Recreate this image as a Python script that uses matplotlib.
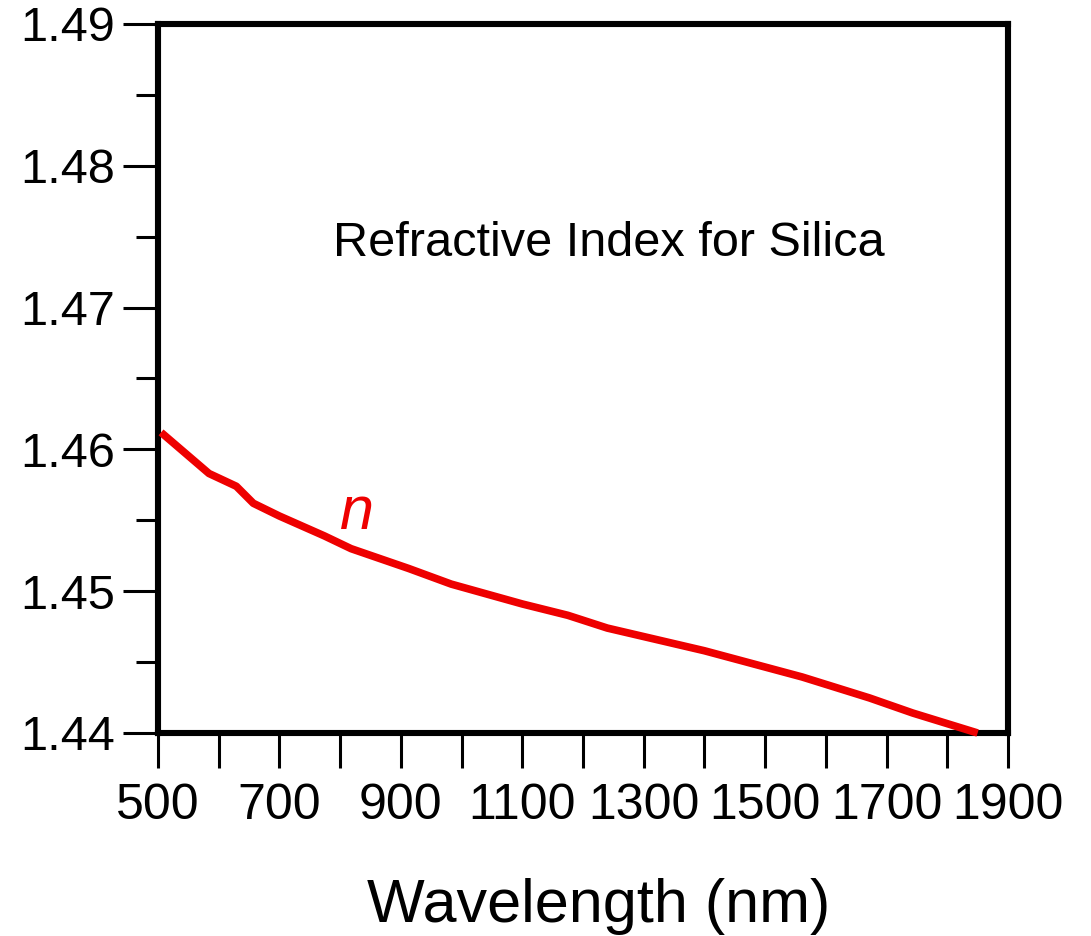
import matplotlib
matplotlib.use('Agg')
import matplotlib.pyplot as plt
from matplotlib.ticker import MultipleLocator, FixedLocator

# data
wavelength = [505, 584, 629, 657, 700, 774, 818, 913, 983, 1100, 1175, 1240,
              1400, 1561, 1672, 1743, 1850]
n_index = [1.4612, 1.4583, 1.4574, 1.4562, 1.4553, 1.4539, 1.4530, 1.4516,
           1.4505, 1.4491, 1.4483, 1.4474, 1.4458, 1.44395, 1.44247, 1.44141,
           1.4400]
xlabels = [500, 700, 900, 1100, 1300, 1500, 1700, 1900]
xminor = [600, 800, 1000, 1200, 1400, 1600, 1800]
yticks = [1.44, 1.45, 1.46, 1.47, 1.48, 1.49]

plt.rcParams['font.family'] = ['Liberation Sans', 'DejaVu Sans']

fig = plt.figure(figsize=(10.91, 9.36), dpi=100)
ax = fig.add_axes([158 / 1091, 1 - 733 / 936, 850 / 1091, 709 / 936])

ax.plot(wavelength, n_index, color='#ee0000', lw=5.5, solid_capstyle='butt',
        clip_on=False, zorder=3)

ax.set_xlim(500, 1900)
ax.set_ylim(1.44, 1.49)

ax.xaxis.set_major_locator(FixedLocator(xlabels))
ax.xaxis.set_minor_locator(FixedLocator(xminor))
ax.set_xticklabels([str(v) for v in xlabels])
ax.yaxis.set_major_locator(FixedLocator(yticks))
ax.yaxis.set_minor_locator(MultipleLocator(0.005))
ax.set_yticklabels(['%.2f' % v for v in yticks])

ax.tick_params(axis='both', which='major', direction='out', length=25,
               width=2.2, color='black')
ax.tick_params(axis='x', which='major', labelsize=36, pad=11)
ax.tick_params(axis='y', which='major', labelsize=35, pad=6)
ax.tick_params(axis='x', which='minor', direction='out', length=25, width=2.2)
ax.tick_params(axis='y', which='minor', direction='out', length=16, width=2.2)

for s in ax.spines.values():
    s.set_linewidth(4.4)

ax.text(1243, 1.4745, 'Refractive Index for Silica', fontsize=35,
        ha='center', va='center')
ax.text(827, 1.4555, 'n', fontsize=44, style='italic', color='#ee0000',
        ha='center', va='center')

ax.set_xlabel('Wavelength (nm)', fontsize=44, labelpad=38)
ax.xaxis.set_label_coords(0.518, -0.205)

fig.savefig('out.png', dpi=100)
